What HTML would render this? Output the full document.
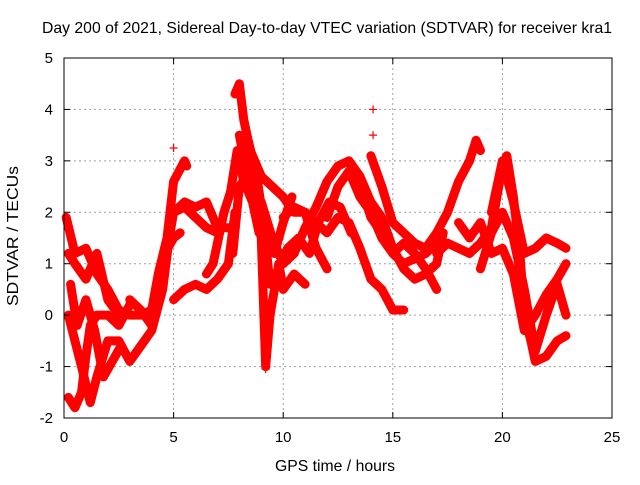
<!DOCTYPE html>
<html><head><meta charset="utf-8"><style>
body{margin:0;background:#fff;width:640px;height:480px;overflow:hidden}
svg text{font-family:"Liberation Sans",sans-serif;font-size:15px;fill:#000}
svg text.big{font-size:15.8px}
</style></head><body>
<svg id="chart" width="640" height="480" viewBox="0 0 640 480">
<rect width="640" height="480" fill="#fff"/>
<g id="grid"></g>
<g id="marks"></g>
<rect x="64" y="58" width="548" height="360" fill="none" stroke="#000" stroke-width="1"/>
<g id="axes"></g>
<text class="big" x="327" y="33" text-anchor="middle" textLength="570" lengthAdjust="spacingAndGlyphs">Day 200 of 2021, Sidereal Day-to-day VTEC variation (SDTVAR) for receiver kra1</text>
<text class="big" x="335" y="471" text-anchor="middle" textLength="120" lengthAdjust="spacingAndGlyphs">GPS time / hours</text>
<text class="big" transform="translate(18,236) rotate(-90)" text-anchor="middle" textLength="140" lengthAdjust="spacingAndGlyphs">SDTVAR / TECUs</text>
</svg>
<script>
const xTicks=[0,5,10,15,20,25];
const yTicks=[-2,-1,0,1,2,3,4,5];
const trackA=[[0.1,1.9],[0.5,1.2],[1,1.3],[1.5,0.8],[2,0.5],[2.5,0.1],[3,0],[3.5,0],[4,0.1],[4.3,0.8],[4.7,1.5],[5,2.6],[5.5,3],[5.6,2.9]];
const trackB=[[0.2,0],[0.5,-0.5],[0.8,-1],[1.2,-1.7],[1.5,-1.2],[2,-0.5],[2.5,-0.5],[3,-0.9],[3.5,-0.6],[4,-0.3],[4.5,0.5],[4.8,1.5],[5,2],[5.5,2.1],[6,1.9],[6.5,1.7],[7,1.6]];
const trackC=[[0.2,-1.6],[0.5,-1.8],[0.8,-1.5],[1,-0.8],[1.2,-0.2],[1.5,0],[2,0],[2.5,-0.2],[3,0.2]];
const trackD=[[0.2,1.2],[0.5,1],[1,0.7],[1.5,1.2],[2,0.3],[2.5,0]];
const trackE=[[5,0.3],[5.5,0.5],[6,0.6],[6.5,0.5],[7,0.7],[7.5,1],[7.8,2]];
const trackF=[[5,2],[5.5,2.2],[6,2.1],[6.5,2.2],[7,1.7],[7.5,1.7]];
const trackG=[[7.8,4.3],[8,4.5],[8.2,3.8],[8.5,3.2],[9,2.7],[9.5,2.5],[10,2.3],[10.5,2],[11,2],[11.5,1.3],[12,0.9]];
const trackH=[[7.7,1.2],[8,2.5],[8.5,2.8],[9,1.5],[9.2,-1],[9.4,0],[9.8,1],[10,0.5],[10.5,0.8],[11,0.6]];
const trackI=[[8,3.5],[8.5,2.4],[9,2.2],[9.5,1.5],[10,1],[10.5,1.2],[11,1.7],[11.5,2.1],[12,2.6],[12.5,2.9],[13,3],[13.5,2.6],[14,1.9],[14.5,1.6],[15,1.2],[15.5,1],[16,1.1],[16.5,1.2],[17,1.4]];
const trackJ=[[10,1.9],[10.5,2.1],[11,2],[11.5,1.8],[12,1.6],[12.5,1.9],[13,1.8],[13.5,1.3],[14,0.7],[14.5,0.5],[15,0.1],[15.5,0.1]];
const trackK=[[12,1.9],[12.5,2.5],[13,2.8],[13.5,2.3],[14,2],[14.5,1.5],[15,1.2],[15.5,1.4],[16,1.2],[16.5,0.9],[17,0.5]];
const trackL=[[14,3.1],[14.5,2.5],[15,1.8],[15.5,1.6],[16,1.4],[16.5,1.3],[17,1.6],[17.5,2],[18,2.6],[18.5,3],[18.8,3.4],[19,3.2]];
const trackM=[[17,1.2],[17.5,1.4],[18,1.3],[18.5,1.2],[19,1.4],[19.5,1.7],[20,2.9],[20.2,3.1],[20.5,2.3],[20.8,1.2],[21,0],[21.3,-0.5],[21.5,-0.9],[22,-0.8],[22.5,-0.5],[22.9,-0.4]];
const trackN=[[18,1.8],[18.5,1.5],[19,1.8],[19.5,1.2],[20,1.3],[20.5,0.8],[21,-0.3],[21.5,0],[22,0.4],[22.5,0.7],[22.9,1]];
const trackO=[[19.5,2],[20,3],[20.5,2.2],[21,1.2],[21.5,1.3],[22,1.5],[22.5,1.4],[22.9,1.3]];
const trackP=[[19,0.9],[19.5,1.6],[20,2],[20.5,1.5],[21,0.5],[21.5,-0.7],[22,0],[22.5,0.6],[22.9,0]];
const trackQ=[[0.3,0.6],[0.6,-0.2],[1,0.3],[1.4,-0.3],[1.8,-1.2],[2.2,-0.9],[2.6,-0.6]];
const trackR=[[8.4,3.4],[8.8,2.7],[9.1,1.8],[9.4,0.6],[9.8,0.9],[10.2,1.3],[10.7,1.5],[11.2,1.2],[11.6,1.8],[12.1,2.2],[12.6,2.1],[13.1,1.6]];
const trackS=[[13,3],[13.5,2.7],[14,2.2],[14.5,1.9],[15,1.3],[15.5,0.9],[16,0.7],[16.5,0.8],[17,1],[17.3,1.6]];
const trackT=[[3,0.3],[3.5,0.1],[4,-0.2],[4.3,0.4],[4.6,1.2],[5,1.5],[5.3,1.6]];
const trackU=[[6.5,0.8],[6.8,1],[7,1.4],[7.3,2],[7.6,2.4],[7.9,3.2],[8.2,2.6],[8.6,2.2],[8.9,1.6],[9.2,1.8],[9.6,1.2],[10,1.8],[10.4,2.3]];
const outliers=[[14.1,4],[14.1,3.5],[5,3.25],[9.2,-1.05]];
const tracks=[trackA,trackB,trackC,trackD,trackE,trackF,trackG,trackH,trackI,trackJ,trackK,trackL,trackM,trackN,trackO,trackP,trackQ,trackR,trackS,trackT,trackU];

const NS='http://www.w3.org/2000/svg';
const X=v=>64+v*548/25, Y=v=>418-(v+2)*360/7;
const grid=document.getElementById('grid'),axes=document.getElementById('axes'),marks=document.getElementById('marks');
function mk(tag,at,p){const e=document.createElementNS(NS,tag);for(const k in at)e.setAttribute(k,at[k]);p.appendChild(e);return e;}
xTicks.forEach(t=>{
  if(t>0&&t<25){const g=mk('line',{x1:X(t),x2:X(t),y1:58,y2:418,stroke:'#a0a0a0','stroke-dasharray':'2,3'},grid);
  
  }
  const tx=mk('text',{x:X(t),y:442,'text-anchor':'middle'},axes);tx.textContent=t;
  
  
  mk('line',{x1:X(t),x2:X(t),y1:418,y2:412,stroke:'#000'},axes);
  mk('line',{x1:X(t),x2:X(t),y1:58,y2:64,stroke:'#000'},axes);
});
yTicks.forEach(t=>{
  if(t>-2&&t<5){const g=mk('line',{x1:64,x2:612,y1:Y(t),y2:Y(t),stroke:'#a0a0a0','stroke-dasharray':'2,3'},grid);
  
  }
  const tx=mk('text',{x:53,y:Y(t)+5,'text-anchor':'end'},axes);tx.textContent=t;
  
  
  mk('line',{x1:64,x2:70,y1:Y(t),y2:Y(t),stroke:'#000'},axes);
  mk('line',{x1:606,x2:612,y1:Y(t),y2:Y(t),stroke:'#000'},axes);
});
function plus(x,y){return `M${x-4},${y}h8M${x},${y-4}v8`;}
tracks.forEach(tr=>{
  const pl=mk('polyline',{points:tr.map(p=>X(p[0])+','+Y(p[1])).join(' '),fill:'none',stroke:'#ff0000','stroke-width':9,'stroke-linejoin':'round','stroke-linecap':'round'},marks);
  
  
  const pp=mk('path',{d:tr.map(p=>plus(X(p[0]),Y(p[1]))).join(''),stroke:'#ff0000','stroke-width':1.2,fill:'none'},marks);
  
  
});
const op=mk('path',{d:outliers.map(p=>plus(X(p[0]),Y(p[1]))).join(''),stroke:'#ff0000','stroke-width':1.2,fill:'none'},marks);


</script>
</body></html>
